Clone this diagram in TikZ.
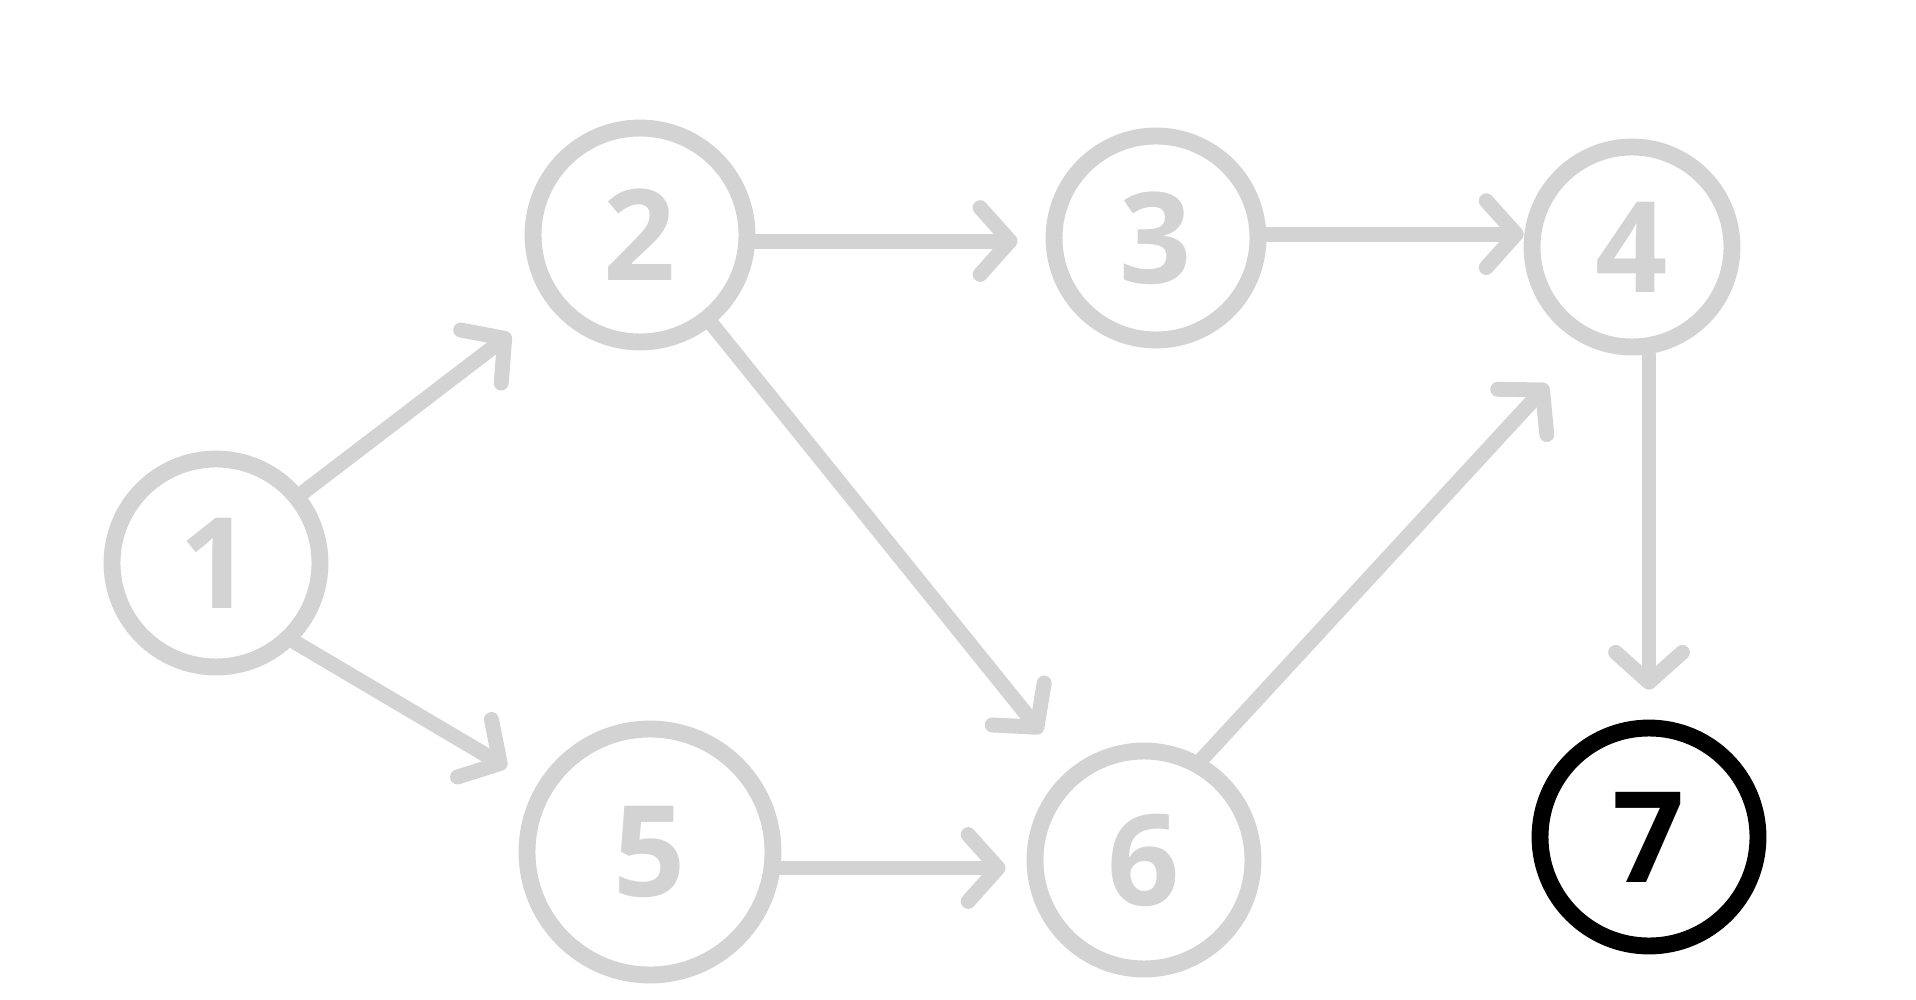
\documentclass[tikz,border=0pt]{standalone}
\usepackage{fontspec}
\setsansfont{Open Sans}
\usetikzlibrary{arrows.meta}
\definecolor{lg}{HTML}{D3D3D3}
\begin{document}
\begin{tikzpicture}[x=0.02cm,y=-0.02cm,
  vtx/.style={circle, draw=lg, line width=9.6pt, text=lg, inner sep=0pt,
    font=\sffamily\bfseries\fontsize{72}{72}\selectfont},
  blk/.style={draw=black, text=black},
  edge/.style={draw=lg, line width=8.5pt, line cap=round,
    -{Straight Barb[length=17pt,width=38pt,line cap=round,line join=round]}}
]
\useasboundingbox (0,0) rectangle (1916,1000);
\node[vtx, minimum size=4.16cm] (n1) at (216,563) {1};
\node[vtx, minimum size=4.28cm] (n2) at (640,235) {2};
\node[vtx, minimum size=4.08cm] (n3) at (1156,238) {3};
\node[vtx, minimum size=4.00cm] (n4) at (1632,247) {4};
\node[vtx, minimum size=4.92cm] (n5) at (650,852) {5};
\node[vtx, minimum size=4.36cm] (n6) at (1144,860) {6};
\node[vtx, blk, minimum size=4.36cm] (n7) at (1649,837) {7};

\draw[edge, shorten >=27pt] (n1.39) -- (n2);
\draw[edge, shorten >=20pt] (n1.-45) -- (n5);
\draw[edge, shorten >=16pt] (n2.-3) -- (n2.-3 -| n3.west);
\draw[edge, shorten >=26pt] (n2) -- (n6);
\draw[edge] (n3.2) -- (n3.2 -| n4.west);
\draw[edge, shorten >=17pt] (n4.south -| n7.north) -- (n7.north);
\draw[edge, shorten >=12pt] (n5.-7) -- (n5.-7 -| n6.west);
\draw[edge, shorten >=31pt] (n6.60) -- (n4.244);
\end{tikzpicture}
\end{document}
